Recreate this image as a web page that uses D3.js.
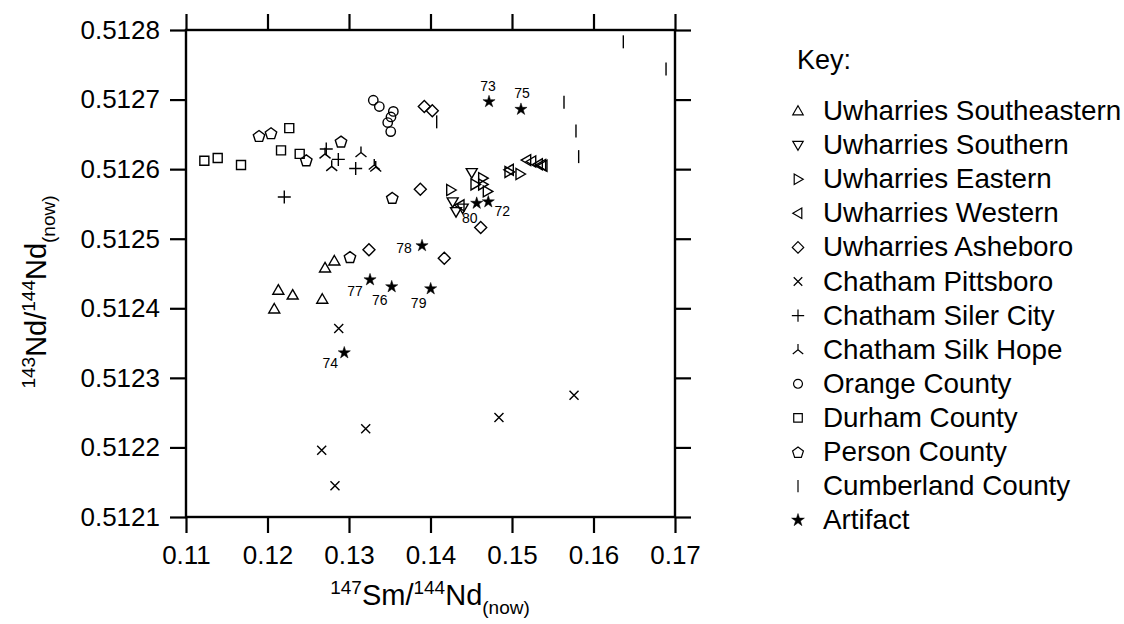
<!DOCTYPE html>
<html><head><meta charset="utf-8">
<script src="https://cdn.jsdelivr.net/npm/d3@7"></script>
<style>body{margin:0;background:#fff} text{font-family:"Liberation Sans",Arial,sans-serif;fill:#000}</style>
</head><body><svg id="c" width="1124" height="624"></svg>
<script>
// ---------- data ----------
const seriesNames = ["Uwharries Southeastern","Uwharries Southern","Uwharries Eastern","Uwharries Western","Uwharries Asheboro","Chatham Pittsboro","Chatham Siler City","Chatham Silk Hope","Orange County","Durham County","Person County","Cumberland County","Artifact"];
const seriesSymbols = ["triUp","triDown","triRight","triLeft","diamond","cross","plus","silk","circle","square","pentagon","vline","star"];

const uwSoutheasternX = [0.12133,0.12309,0.12083,0.12672,0.12706,0.12820];
const uwSoutheasternY = [0.512426,0.512419,0.512399,0.512413,0.512458,0.512468];
const uwSouthernX = [0.14506,0.14272,0.14313,0.14395];
const uwSouthernY = [0.512595,0.512553,0.512539,0.512544];
const uwEasternX = [0.14248,0.14546,0.14640,0.14640,0.14697,0.14963,0.15098];
const uwEasternY = [0.512570,0.512578,0.512587,0.512578,0.512568,0.512596,0.512593];
const uwWesternX = [0.14362,0.14967,0.15180,0.15242,0.15323,0.15364,0.15380];
const uwWesternY = [0.512548,0.512599,0.512613,0.512611,0.512607,0.512606,0.512605];
const uwAsheboroX = [0.13924,0.14022,0.13875,0.13245,0.14169,0.14616];
const uwAsheboroY = [0.512690,0.512684,0.512571,0.512484,0.512472,0.512516];
const pittsboroX = [0.12874,0.12665,0.12828,0.13205,0.14840,0.15761];
const pittsboroY = [0.512371,0.512196,0.512145,0.512227,0.512243,0.512275];
const silerCityX = [0.12721,0.12869,0.13082,0.12206];
const silerCityY = [0.512629,0.512614,0.512601,0.512560];
const silkHopeX = [0.12706,0.12788,0.13147,0.13310,0.13328];
const silkHopeY = [0.512622,0.512604,0.512624,0.512606,0.512603];
const orangeX = [0.13298,0.13372,0.13544,0.13515,0.13475,0.13512];
const orangeY = [0.512699,0.512690,0.512683,0.512675,0.512667,0.512654];
const durhamX = [0.11225,0.11389,0.11675,0.12267,0.12166,0.12395];
const durhamY = [0.512612,0.512616,0.512606,0.512659,0.512627,0.512622];
const personX = [0.11896,0.12043,0.12476,0.12902,0.13531,0.13012];
const personY = [0.512648,0.512652,0.512613,0.512640,0.512559,0.512474];
const cumberlandX = [0.16366,0.16890,0.15638,0.15785,0.15818,0.14076];
const cumberlandY = [0.512783,0.512744,0.512696,0.512655,0.512618,0.512668];
const artifactX = [0.14718,0.15110,0.14709,0.14567,0.13896,0.13258,0.13524,0.14002,0.12942];
const artifactY = [0.512697,0.512686,0.512553,0.512551,0.512490,0.512441,0.512431,0.512428,0.512336];
const artifactLabels = ["73","75","72","80","78","77","76","79","74"];

const xTicks = [0.11,0.12,0.13,0.14,0.15,0.16,0.17];
const yTicks = [0.5121,0.5122,0.5123,0.5124,0.5125,0.5126,0.5127,0.5128];

const seriesX = [uwSoutheasternX,uwSouthernX,uwEasternX,uwWesternX,uwAsheboroX,pittsboroX,silerCityX,silkHopeX,orangeX,durhamX,personX,cumberlandX,artifactX];
const seriesY = [uwSoutheasternY,uwSouthernY,uwEasternY,uwWesternY,uwAsheboroY,pittsboroY,silerCityY,silkHopeY,orangeY,durhamY,personY,cumberlandY,artifactY];

// ---------- layout ----------
const L = 186, R = 675, T = 30, B = 517;
const svg = d3.select("#c");
const x = d3.scaleLinear().domain([0.11,0.17]).range([L,R]);
const y = d3.scaleLinear().domain([0.5121,0.5128]).range([B,T]);

function symPath(type, s){
  const f = v => (v*s).toFixed(2);
  switch(type){
    case "triUp": return `M0,${f(-5.5)}L${f(5.5)},${f(4)}L${f(-5.5)},${f(4)}Z`;
    case "triDown": return `M0,${f(5.5)}L${f(5.5)},${f(-4)}L${f(-5.5)},${f(-4)}Z`;
    case "triRight": return `M${f(5.5)},0L${f(-4)},${f(-5.5)}L${f(-4)},${f(5.5)}Z`;
    case "triLeft": return `M${f(-5.5)},0L${f(4)},${f(-5.5)}L${f(4)},${f(5.5)}Z`;
    case "diamond": return `M0,${f(-6)}L${f(6)},0L0,${f(6)}L${f(-6)},0Z`;
    case "cross": return `M${f(-4.5)},${f(-4.5)}L${f(4.5)},${f(4.5)}M${f(-4.5)},${f(4.5)}L${f(4.5)},${f(-4.5)}`;
    case "plus": return `M${f(-6.5)},0H${f(6.5)}M0,${f(-6.5)}V${f(6.5)}`;
    case "silk": return `M0,${f(-6)}V0L${f(-5.5)},${f(4.5)}M0,0L${f(5.5)},${f(4.5)}`;
    case "circle": return `M${f(4.7)},0A${f(4.7)},${f(4.7)} 0 1,1 ${f(-4.7)},0A${f(4.7)},${f(4.7)} 0 1,1 ${f(4.7)},0Z`;
    case "square": return `M${f(-4.5)},${f(-4.5)}h${f(9)}v${f(9)}h${f(-9)}Z`;
    case "pentagon": {
      let p = [];
      for(let i=0;i<5;i++){const a=-Math.PI/2+i*2*Math.PI/5;p.push(f(6*Math.cos(a))+","+f(6*Math.sin(a)+0.8));}
      return "M"+p.join("L")+"Z";
    }
    case "vline": return `M0,${f(-6.5)}V${f(6.5)}`;
    case "star": return d3.symbol(d3.symbolStar, 46*s*s)();
  }
}

// ---------- frame & axes ----------
const axG = svg.append("g");
axG.append("g").attr("transform",`translate(${L},0)`).call(d3.axisLeft(y).tickValues(yTicks).tickSize(16).tickPadding(10).tickFormat(d3.format(".4f")));
axG.append("g").attr("transform",`translate(${R},0)`).call(d3.axisRight(y).tickValues(yTicks).tickSize(16).tickFormat(""));
axG.append("g").attr("transform",`translate(0,${T})`).call(d3.axisTop(x).tickValues(xTicks).tickSize(16).tickFormat(""));
axG.append("g").attr("transform",`translate(0,${B})`).call(d3.axisBottom(x).tickValues(xTicks).tickSize(16).tickPadding(13).tickFormat(d3.format(".2f")));
axG.selectAll(".domain").remove();
axG.selectAll(".tick line").attr("stroke","#000").attr("stroke-width",2.2);
axG.selectAll(".tick text").attr("font-size",26).attr("font-family",'"Liberation Sans",Arial,sans-serif').attr("fill","#000");
svg.append("rect").attr("x",L).attr("y",T).attr("width",R-L).attr("height",B-T).attr("fill","none").attr("stroke","#000").attr("stroke-width",2.4);

// ---------- points ----------
const pts = svg.append("g");
seriesNames.forEach((name,i)=>{
  const type = seriesSymbols[i];
  const data = seriesX[i].map((v,j)=>({x:v,y:seriesY[i][j],j}));
  pts.selectAll(null).data(data).enter().append("path")
    .attr("transform",d=>`translate(${x(d.x)},${y(d.y)})`)
    .attr("d",symPath(type,1))
    .attr("fill", type==="star" ? "#000" : "none")
    .attr("stroke","#000").attr("stroke-width", type==="star"?0.5:1.4)
    .attr("stroke-linejoin","miter");
});

// artifact labels
const labelOffset = {"73":[-1,-11],"75":[1,-11],"72":[14,14],"80":[-7,20],"78":[-18,7],"77":[-15,16],"76":[-12,18],"79":[-12,19],"74":[-14,15]};
svg.append("g").selectAll("text").data(artifactLabels.map((l,j)=>({l,x:artifactX[j],y:artifactY[j]}))).enter().append("text")
  .attr("x",d=>x(d.x)+labelOffset[d.l][0]).attr("y",d=>y(d.y)+labelOffset[d.l][1])
  .attr("text-anchor","middle").attr("font-size",14).text(d=>d.l);

// ---------- axis titles ----------
function title(sel, a, b){
  sel.append("tspan").attr("font-size",19).attr("dy",-11).text(a);
  sel.append("tspan").attr("dy",11).text(b);
  sel.append("tspan").attr("font-size",19).attr("dy",-11).text("144");
  sel.append("tspan").attr("dy",11).text("Nd");
  sel.append("tspan").attr("font-size",19).attr("dy",9).text("(now)");
}
const xt = svg.append("text").attr("x",430).attr("y",605).attr("text-anchor","middle").attr("font-size",29);
title(xt,"147","Sm/");
const yt = svg.append("text").attr("transform","translate(46,292) rotate(-90)").attr("text-anchor","middle").attr("font-size",29);
title(yt,"143","Nd/");

// ---------- legend ----------
const lg = svg.append("g");
lg.append("text").attr("x",797).attr("y",69).attr("font-size",27).text("Key:");
seriesNames.forEach((name,i)=>{
  const yy = 120 + i*34.1;
  lg.append("path").attr("transform",`translate(798,${yy-9})`).attr("d",symPath(seriesSymbols[i],seriesSymbols[i]==="star"?1.05:0.95))
    .attr("fill", seriesSymbols[i]==="star" ? "#000" : "none").attr("stroke","#000").attr("stroke-width",seriesSymbols[i]==="star"?0.5:1.2);
  lg.append("text").attr("x",823).attr("y",yy).attr("font-size",27.8).text(name);
});
</script></body></html>
